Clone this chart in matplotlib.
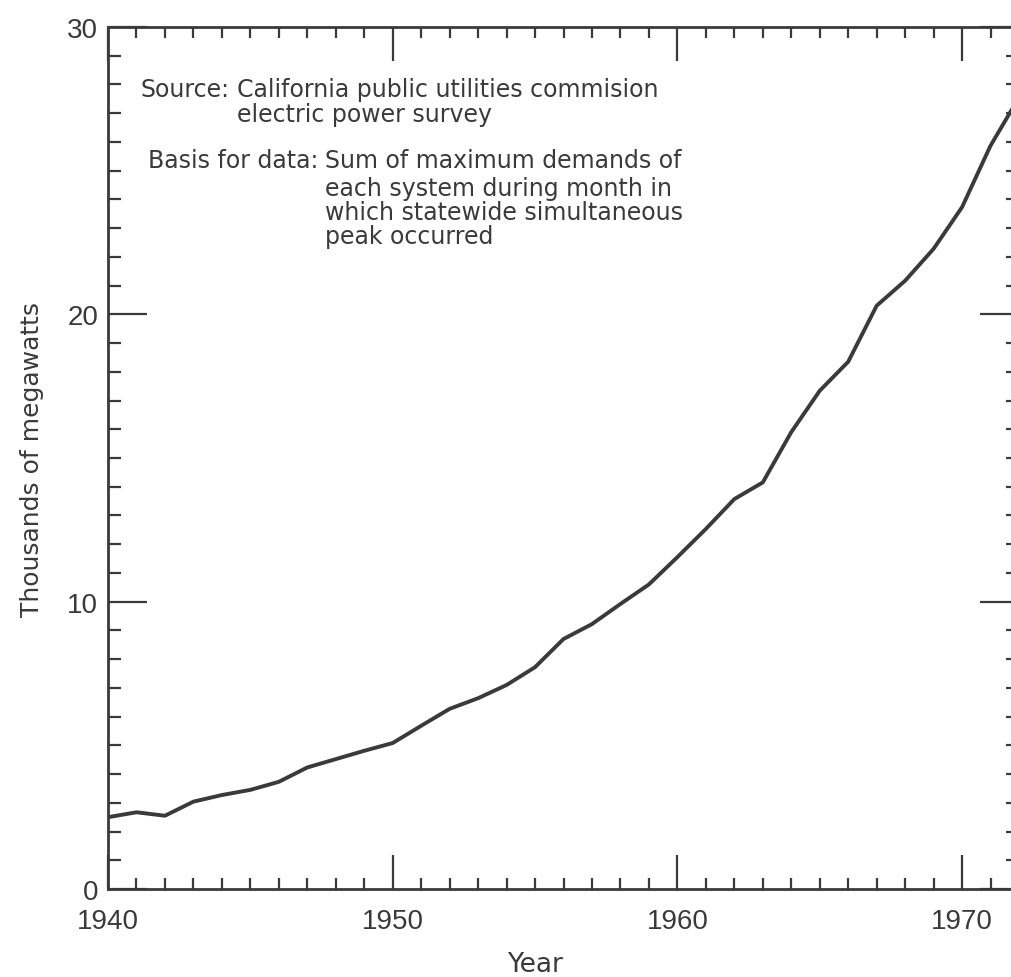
import matplotlib
matplotlib.use("Agg")
import matplotlib.pyplot as plt
from matplotlib.ticker import MultipleLocator

years = [1940, 1941, 1942, 1943, 1944, 1945, 1946, 1947, 1948, 1949,
         1950, 1951, 1952, 1953, 1954, 1955, 1956, 1957, 1958, 1959,
         1960, 1961, 1962, 1963, 1964, 1965, 1966, 1967, 1968, 1969,
         1970, 1971, 1972]
demand = [2.50, 2.67, 2.55, 3.04, 3.27, 3.45, 3.73, 4.23, 4.52, 4.81,
          5.08, 5.68, 6.27, 6.64, 7.10, 7.72, 8.70, 9.22, 9.92, 10.60,
          11.55, 12.53, 13.57, 14.15, 15.90, 17.34, 18.35, 20.30, 21.17, 22.28,
          23.73, 25.87, 27.55]

major_years = [1940, 1950, 1960, 1970]
major_vals = [0, 10, 20, 30]

ink = "#3a3a3a"
W, H = 1012, 978

plt.rcParams["font.family"] = ["Liberation Sans", "DejaVu Sans"]
wide = ["DejaVu Sans"]

fig = plt.figure(figsize=(W / 100, H / 100), dpi=100)
ax = fig.add_axes([108 / W, 1 - 890 / H, (1019 - 108) / W, (890 - 28) / H])

ax.plot(years, demand, color=ink, lw=2.8, solid_joinstyle="round")

ax.set_xlim(1940, 1972)
ax.set_ylim(0, 30)

ax.xaxis.set_minor_locator(MultipleLocator(1))
ax.yaxis.set_minor_locator(MultipleLocator(1))
ax.set_xticks(major_years)
ax.set_yticks(major_vals)

ax.tick_params(which="both", direction="in", top=True, right=True, color=ink)
ax.tick_params(axis="x", which="major", length=24.5, width=1.6, pad=14, labelsize=20, labelcolor=ink)
ax.tick_params(axis="x", which="minor", length=8, width=1.6)
ax.tick_params(axis="y", which="major", length=28, width=1.6, pad=7, labelsize=20, labelcolor=ink)
ax.tick_params(axis="y", which="minor", length=9.5, width=1.6)

for s in ax.spines.values():
    s.set_color(ink)
    s.set_linewidth(2.0)

fig.text(32 / W, 1 - 460 / H, "Thousands of megawatts", rotation=90,
         ha="center", va="center", fontsize=18, color=ink, family=wide)
fig.text(535 / W, 1 - 972 / H, "Year", ha="center", va="baseline",
         fontsize=19, color=ink, family=wide)

# heading words, right-aligned so they stop just before the wrapped text
heads = [(230, 97, "Source:"), (318, 168, "Basis for data:")]
for x, y, t in heads:
    fig.text(x / W, 1 - y / H, t, ha="right", va="baseline",
             fontsize=17, color=ink, family=wide)

notes = [
    (237, 97, "California public utilities commision"),
    (237, 122, "electric power survey"),
    (325, 168, "Sum of maximum demands of"),
    (325, 196, "each system during month in"),
    (325, 220, "which statewide simultaneous"),
    (325, 244, "peak occurred"),
]
for x, y, t in notes:
    fig.text(x / W, 1 - y / H, t, ha="left", va="baseline",
             fontsize=17, color=ink, family=wide)

fig.savefig("out.png", dpi=100)
